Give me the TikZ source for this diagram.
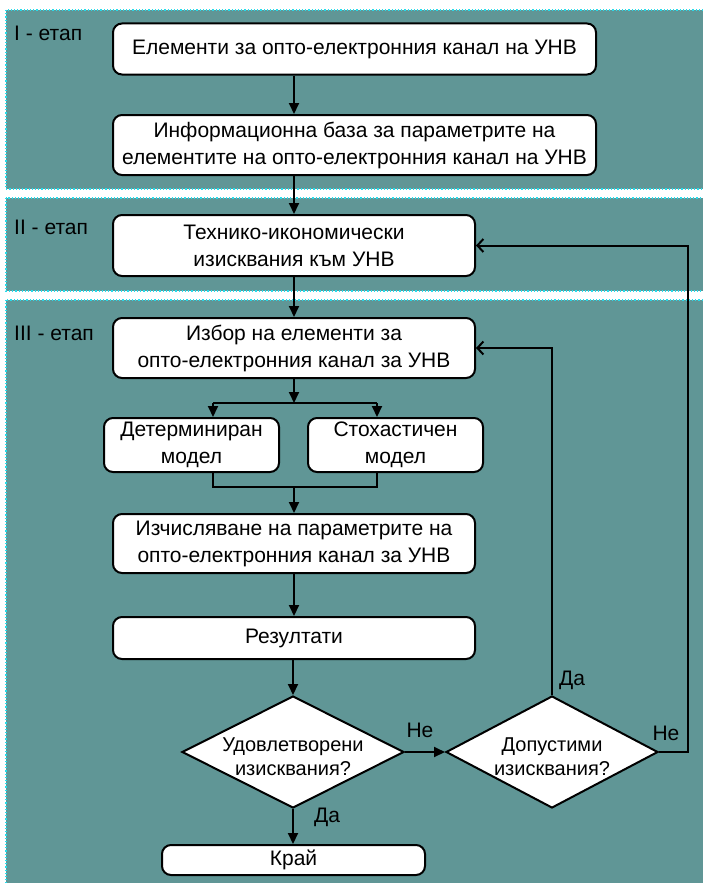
\documentclass[tikz,border=0pt]{standalone}
\usepackage{fontspec}
\setmainfont{Liberation Sans}
\usetikzlibrary{shapes.geometric,arrows.meta}
\definecolor{bandteal}{RGB}{96,150,150}
\definecolor{bandedge}{RGB}{40,220,235}
\begin{document}
\begin{tikzpicture}[x=1pt,y=-1pt,
 band/.style={fill=bandteal, draw=bandedge, dotted, line width=1.2pt},
 proc/.style={draw=black, fill=white, line width=2pt, rounded corners=9pt, align=center, font=\fontsize{21}{27}\selectfont, inner sep=0pt},
 dec/.style={diamond, draw=black, fill=white, line width=2pt, inner sep=0pt},
 dectext/.style={align=center, font=\fontsize{20}{24}\selectfont, inner sep=0pt},
 flow/.style={line width=2pt, -{Triangle[length=11pt,width=10pt]}},
 back/.style={line width=2pt, -{Straight Barb[length=6pt,width=13pt]}},
 plain/.style={line width=2pt},
 lbl/.style={font=\fontsize{21}{24}\selectfont, inner sep=0pt},
]
\fill[white] (0,0) rectangle (703,883);
\useasboundingbox (0,0) rectangle (703,883);
% bands
\path[band] (6,10) rectangle (710,189);
\path[band] (6,198) rectangle (710,291);
\path[band] (6,300) rectangle (710,890);
\node[lbl, anchor=west] (s1) at (14,33) {I - етап};
\node[lbl, anchor=west] (s2) at (14,227) {II - етап};
\node[lbl, anchor=west] (s3) at (14,333) {III - етап};
% nodes
\node[proc, minimum width=483pt, minimum height=51pt] (b1) at (354.5,49) {Елементи за опто-електронния канал на УНВ};
\node[proc, minimum width=483pt, minimum height=60pt] (b2) at (354.5,145) {Информационна база за параметрите на\\елементите на опто-електронния канал на УНВ};
\node[proc, minimum width=362pt, minimum height=61pt] (b3) at (294,245.5) {Технико-икономически\\изисквания към УНВ};
\node[proc, minimum width=362pt, minimum height=60pt] (c1) at (294,348) {Избор на елементи за\\опто-електронния канал за УНВ};
\node[proc, minimum width=175pt, minimum height=54pt] (mL) at (191.5,445) {Детерминиран\\модел};
\node[proc, minimum width=175pt, minimum height=54pt] (mR) at (395.5,445) {Стохастичен\\модел};
\node[proc, minimum width=362pt, minimum height=59pt] (c2) at (294,543.5) {Изчисляване на параметрите на\\опто-електронния канал за УНВ};
\node[proc, minimum width=362pt, minimum height=42pt] (res) at (294,638) {Резултати};
\node[dec, minimum width=222pt, minimum height=112pt] (d1) at (293,752) {};
\node[dectext] (d1t) at (293,757) {Удовлетворени\\изисквания?};
\node[dec, minimum width=212pt, minimum height=112pt] (d2) at (552,752) {};
\node[dectext] (d2t) at (552,757) {Допустими\\изисквания?};
\node[proc, minimum width=263pt, minimum height=30pt] (fin) at (293.5,860) {Край};
% helper coordinates
\coordinate (sp) at (294,0);
\coordinate (jl) at (213,403);
\coordinate (jr) at (377,403);
\coordinate (jc) at (294,403);
\coordinate (ml) at (213,487);
\coordinate (mr) at (377,487);
\coordinate (mc) at (294,487);
\coordinate (rr) at (688,0);
% connectors
\draw[flow] (b1.south -| sp) -- (b2.north -| sp);
\draw[flow] (b2.south -| sp) -- (b3.north -| sp);
\draw[flow] (b3.south -| sp) -- (c1.north -| sp);
\draw[flow] (c1.south -| sp) -- (jc);
\draw[plain] (jl) -- (jr);
\draw[flow] (jl) -- (jl |- mL.north);
\draw[flow] (jr) -- (jr |- mR.north);
\draw[plain] (jl |- mL.south) -- (ml) -- (mr) -- (jr |- mR.south);
\draw[flow] (mc) -- (c2.north -| mc);
\draw[flow] (c2.south -| sp) -- (res.north -| sp);
\draw[flow] (res.south -| d1) -- (d1.north);
\draw[flow] (d1.east) -- (d2.west);
\draw[flow] (d1.south) -- (fin.north -| d1.south);
\draw[back] (d2.north) -- (d2.north |- c1.east) -- (c1.east);
\draw[back] (d2.east) -- (d2.east -| rr) -- (rr |- b3.east) -- (b3.east);
% labels
\node[lbl] (lNe1) at (420,730) {Не};
\node[lbl] (lDa1) at (572,680) {Да};
\node[lbl] (lNe2) at (666,733) {Не};
\node[lbl] (lDa2) at (327,817) {Да};
\end{tikzpicture}
\end{document}
